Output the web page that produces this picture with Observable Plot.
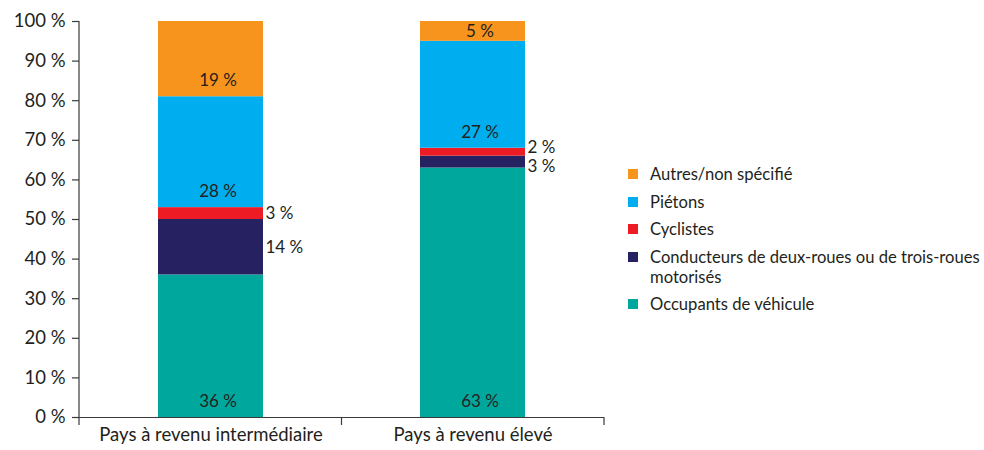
<!DOCTYPE html>
<html lang="fr">
<head>
<meta charset="utf-8">
<script src="https://cdn.jsdelivr.net/npm/d3@7"></script>
<script src="https://cdn.jsdelivr.net/npm/@observablehq/plot@0.6"></script>
<style>
  html, body { margin: 0; padding: 0; background: #fff; }
  #wrap { position: relative; width: 984px; height: 450px; font-family: Lato, "Open Sans", sans-serif; color: #231f20; }
  #chart { position: absolute; left: 0; top: 0; }
  #legend { position: absolute; left: 628px; top: 164px; width: 354px; font-size: 16.6px; line-height: 20px; }
  .item { display: flex; align-items: flex-start; margin-bottom: 7.5px; }
  .swatch { flex: none; width: 10px; height: 10px; margin-top: 5px; margin-right: 12px; }
  .word { white-space: nowrap; }
</style>
</head>
<body>
<div id="wrap">
  <div id="chart"></div>
  <div id="legend"></div>
</div>
<script>
// Road traffic deaths by road user type, share of total (%)
const categories = ["Pays à revenu intermédiaire", "Pays à revenu élevé"];
const series = [
  "Occupants de véhicule",
  "Conducteurs de deux-roues ou de trois-roues motorisés",
  "Cyclistes",
  "Piétons",
  "Autres/non spécifié"
];
const middleIncome = [36, 14, 3, 28, 19];
const highIncome = [63, 3, 2, 27, 5];
const colors = ["#00a79d", "#262262", "#ed1c24", "#00aeef", "#f7941d"];
const yTicks = [0, 10, 20, 30, 40, 50, 60, 70, 80, 90, 100];
// series whose labels sit to the right of the bar
const outsideSeries = ["Conducteurs de deux-roues ou de trois-roues motorisés", "Cyclistes"];

const W = 620, H = 450;
const M = {top: 21, right: 16, bottom: 33, left: 79};
const padInner = 0.6, padOuter = 0.3;
const ink = "#231f20", axisColor = "#3a3a3a";

// stacked rows
const rows = [];
[middleIncome, highIncome].forEach((vals, ci) => {
  let acc = 0;
  vals.forEach((v, si) => {
    rows.push({category: categories[ci], series: series[si], value: v, y1: acc, y2: acc + v});
    acc += v;
  });
});

// layout-derived sizes
const plotW = W - M.left - M.right, plotH = H - M.top - M.bottom;
const step = plotW / categories.length;
const bandwidth = step * (1 - padInner);
const pxPerUnit = plotH / 100;
const labelGap = 19 / pxPerUnit;

const inside = rows.filter(d => !outsideSeries.includes(d.series));
const insideTall = inside.filter(d => d.value >= 10);
const insideShort = inside.filter(d => d.value < 10);

// outside labels: centred on their segment, pushed apart when too close
const outside = rows.filter(d => outsideSeries.includes(d.series)).map(d => ({...d, ly: (d.y1 + d.y2) / 2}));
for (const c of categories) {
  const g = outside.filter(d => d.category === c).sort((a, b) => a.ly - b.ly);
  for (let i = 1; i < g.length; i++) {
    const gap = g[i].ly - g[i - 1].ly;
    if (gap < labelGap) {
      const mid = (g[i].ly + g[i - 1].ly) / 2;
      g[i - 1].ly = mid - labelGap / 2;
      g[i].ly = mid + labelGap / 2;
    }
  }
}

const fmt = d => `${d.value} %`;

// y axis line and category boundary ticks
function categoryFrame(index, scales, values, dims) {
  const x0 = dims.marginLeft, x1 = dims.width - dims.marginRight;
  const yb = dims.height - dims.marginBottom;
  const n = categories.length, s = (x1 - x0) / n;
  const g = d3.create("svg:g").attr("stroke", axisColor).attr("stroke-width", 1.2).attr("fill", "none");
  g.append("line").attr("x1", x0).attr("x2", x0).attr("y1", dims.marginTop).attr("y2", yb);
  for (let k = 0; k <= n; k++) {
    g.append("line").attr("x1", x0 + k * s).attr("x2", x0 + k * s).attr("y1", yb).attr("y2", yb + 8);
  }
  return g.node();
}

const chart = Plot.plot({
  width: W,
  height: H,
  marginTop: M.top,
  marginRight: M.right,
  marginBottom: M.bottom,
  marginLeft: M.left,
  style: {fontFamily: "Lato, 'Open Sans', sans-serif", fontSize: "18px", color: ink, background: "#fff"},
  x: {domain: categories, paddingInner: padInner, paddingOuter: padOuter, label: null},
  y: {domain: [0, 100], label: null},
  color: {domain: series, range: colors},
  marks: [
    Plot.barY(rows, {x: "category", y1: "y1", y2: "y2", fill: "series"}),
    Plot.ruleY([0], {stroke: axisColor, strokeWidth: 1.2}),
    categoryFrame,
    Plot.axisY({ticks: yTicks, tickSize: 7, tickPadding: 7, tickFormat: d => `${d} %`, stroke: axisColor, strokeWidth: 1.2, fill: ink, fontSize: 18.5}),
    Plot.axisX({tickSize: 0, tickPadding: 10, fill: ink, fontSize: 18.5}),
    Plot.text(insideTall, {x: "category", y: "y1", text: fmt, dy: -16, dx: 7, fill: ink, fontSize: 17}),
    Plot.text(insideShort, {x: "category", y: d => (d.y1 + d.y2) / 2, text: fmt, dx: 7, fill: ink, fontSize: 17}),
    Plot.text(outside, {x: "category", y: "ly", text: fmt, dx: bandwidth / 2 + 2, textAnchor: "start", fill: ink, fontSize: 17})
  ]
});
document.getElementById("chart").append(chart);

// legend, top to bottom in stack order from the top; lines only break at spaces
const legend = d3.select("#legend");
series.slice().reverse().forEach(name => {
  const item = legend.append("div").attr("class", "item");
  item.append("div").attr("class", "swatch").style("background", colors[series.indexOf(name)]);
  const label = item.append("div");
  name.split(" ").forEach((word, i) => {
    if (i > 0) label.append("span").text(" ");
    label.append("span").attr("class", "word").text(word);
  });
});
</script>
</body>
</html>
